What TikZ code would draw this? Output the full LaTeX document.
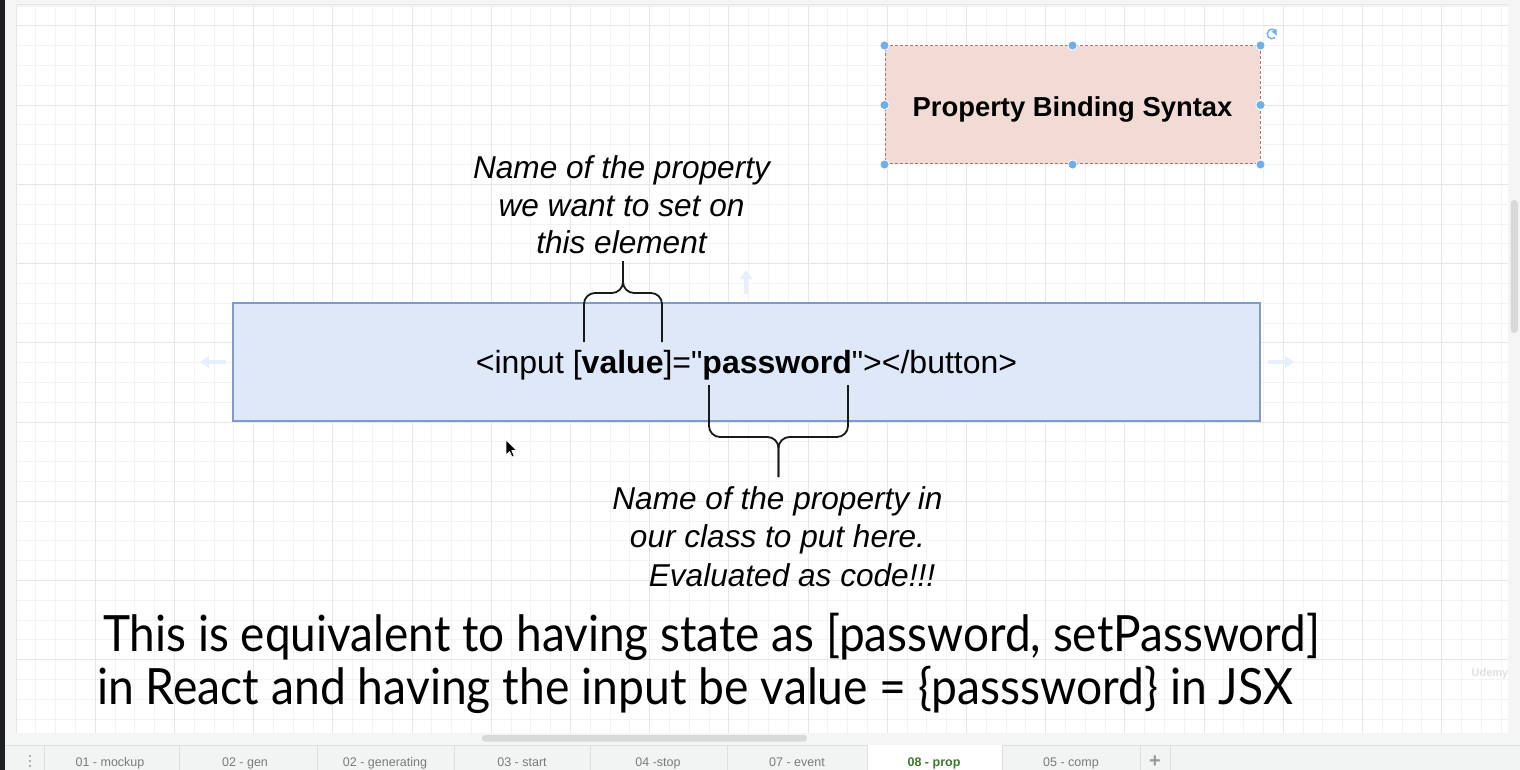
\documentclass[tikz,border=0pt]{standalone}
\usepackage{fontspec}
\setmainfont{Liberation Sans}[Ligatures=TeXOff]
\newfontfamily\subfont{Lato}
\usepackage{graphicx}
\usetikzlibrary{arrows.meta}
\definecolor{gridminor}{HTML}{F3F3F3}
\definecolor{gridmajor}{HTML}{E6E6E6}
\definecolor{pinkfill}{HTML}{F2DAD5}
\definecolor{pinkline}{HTML}{B0736E}
\definecolor{bluefill}{HTML}{DFE8F8}
\definecolor{blueline}{HTML}{7F9ACB}
\definecolor{handlecol}{HTML}{6EAEEA}
\definecolor{hovercol}{HTML}{E6EFFA}
\definecolor{tabbg}{HTML}{F2F4F4}
\definecolor{tabline}{HTML}{DDDFDF}
\definecolor{tabtext}{HTML}{7A7A7A}
\definecolor{tabgreen}{HTML}{3B7A2C}
\definecolor{darkstrip}{HTML}{1D1F22}
\definecolor{panelgray}{HTML}{F5F5F5}
\definecolor{scrollcol}{HTML}{D9D9D9}
\newcommand{\sq}{\symbol{34}}
\tikzset{
  pinkbox/.style={draw=pinkline, densely dashed, line width=1pt, fill=pinkfill,
    minimum width=375pt, minimum height=118pt, inner sep=0pt,
    text height=24pt, text depth=0pt,
    font=\fontsize{27.4}{30}\selectfont\bfseries},
  bluebox/.style={draw=blueline, line width=1.2pt, fill=bluefill,
    minimum width=1027pt, minimum height=118pt, inner sep=0pt},
  codetext/.style={inner sep=0pt, font=\fontsize{32}{36}\selectfont},
  lbl/.style={inner sep=0pt, align=center, font=\fontsize{31.6}{37.7}\selectfont\itshape},
  lblb/.style={inner sep=0pt, align=center, font=\fontsize{31.6}{38.6}\selectfont\itshape},
  bracestyle/.style={line width=1.8pt, rounded corners=11pt, black!90},
  handledot/.style={fill=handlecol, draw=white, line width=0.8pt},
  hoverarrow/.style={hovercol, line width=3.5pt, -{Triangle[length=9pt,width=12pt]}},
  tabsep/.style={tabline, line width=1pt},
  tablabel/.style={anchor=base, inner sep=0pt, text=tabtext, font=\fontsize{12.5}{14}\selectfont},
  subline/.style={anchor=base west, inner sep=0pt, font=\subfont\fontsize{50}{56}\selectfont}
}
\begin{document}
\begin{tikzpicture}[x=1pt,y=-1pt]
\useasboundingbox (0,0) rectangle (1520,770);
\fill[white] (0,0) rectangle (1520,770);
% frame around canvas
\fill[panelgray] (0,0) rectangle (1520,6);
\fill[panelgray] (5,0) rectangle (16,770);
\fill[panelgray] (1508,0) rectangle (1520,745);
\fill[panelgray] (16,733) rectangle (1520,745);
\fill[darkstrip] (0,0) rectangle (5,770);
% grid
\begin{scope}
\clip (16,6) rectangle (1508,733);
\foreach \k in {0,...,76} {\draw[gridminor, line width=1pt] ({16+19.8*\k},6) -- ({16+19.8*\k},733);}
\foreach \k in {-1,...,36} {\draw[gridminor, line width=1pt] (16,{26+19.8*\k}) -- (1508,{26+19.8*\k});}
\foreach \k in {0,...,19} {\draw[gridmajor, line width=1pt] ({16+79.2*\k},6) -- ({16+79.2*\k},733);}
\foreach \k in {0,...,9} {\draw[gridmajor, line width=1pt] (16,{26+79.2*\k}) -- (1508,{26+79.2*\k});}
\end{scope}
\draw[gridmajor, line width=1pt] (16,5) -- (1508,5);
% scrollbars
\fill[scrollcol, rounded corners=3pt] (482,735) rectangle (807,741.5);
\fill[scrollcol, rounded corners=3.5pt] (1510.5,200) rectangle (1518,333);
% title box
\node[pinkbox] (title) at (1072.5,105) {Property Binding Syntax};
\foreach \p in {north west,north,north east,east,south east,south,south west,west}
  {\filldraw[handledot] (title.\p) circle (4.6);}
\draw[handlecol, line width=1.4pt] (1272,34) ++(50:4.8) arc (50:330:4.8);
\fill[handlecol] (1276.5,29) -- (1276.8,35.5) -- (1271.5,31.5) -- cycle;
% main box
\node[bluebox] (codebox) at (746.5,362) {};
\node[codetext, anchor=base] (code) at (746.5,373) {<input [\textbf{value}]=\sq\textbf{password}\sq></button>};
% hover arrows
\coordinate (hl1) at (226,362); \coordinate (hl2) at (200,362);
\coordinate (hr1) at (1268,362); \coordinate (hr2) at (1294,362);
\coordinate (hu1) at (746,294); \coordinate (hu2) at (746,270);
\draw[hoverarrow] (hl1) -- (hl2);
\draw[hoverarrow] (hr1) -- (hr2);
\draw[hoverarrow] (hu1) -- (hu2);
% labels
\node[lbl, anchor=north] (toplab) at (621.5,155.5) {Name of the property\\we want to set on\\this element};
\node[lblb, anchor=north] (botlab) at (777.5,486) {Name of the property in\\our class to put here.\hspace*{11pt}\\\hspace*{29pt}Evaluated as code!!!};
% braces
\coordinate (tbL) at (584,342); \coordinate (tbR) at (662,342);
\coordinate (tbMid) at (623,293); \coordinate (tbTip) at (623,261);
\draw[bracestyle] (tbL) |- (tbMid) -- (tbTip);
\draw[bracestyle] (tbR) |- (tbMid) -- (tbTip);
\coordinate (bbL) at (709,385); \coordinate (bbR) at (848,385);
\coordinate (bbMid) at (778.5,437); \coordinate (bbTip) at (778.5,477);
\draw[bracestyle] (bbL) |- (bbMid) -- (bbTip);
\draw[bracestyle] (bbR) |- (bbMid) -- (bbTip);
% cursor
\filldraw[fill=black, draw=white, line width=0.7pt, line join=round]
  (506,440) -- (506,455) -- (509.5,451.5) -- (512,457) -- (514.2,456) -- (511.8,450.5) -- (516.5,450.5) -- cycle;
% subtitle
\node[subline] (sub1) at (103,651) {\resizebox{1217pt}{\height}{This is equivalent to having state as [password, setPassword]}};
\node[subline] (sub2) at (97,704.5) {\resizebox{1196pt}{\height}{in React and having the input be value = \{passsword\} in JSX}};
% watermark
\node[text=black!12, font=\fontsize{11}{12}\selectfont\bfseries, inner sep=0pt] (wm) at (1490,674) {Udemy};
% tab bar
\fill[tabbg] (5,745) rectangle (1520,770);
\fill[white] (867,745) rectangle (1002,770);
\draw[tabsep] (5,745) -- (867,745);
\draw[tabsep] (1002,745) -- (1520,745);
\foreach \xx in {44,179,317,454,590,727,867,1002,1140,1170} {\draw[tabsep] (\xx,745) -- (\xx,770);}
\foreach \yy in {756,761,766} {\fill[black!40] (30,\yy) circle (1.2);}
\node[tablabel] (t1) at (110,766.5) {01 - mockup};
\node[tablabel] (t2) at (245,766.5) {02 - gen};
\node[tablabel] (t3) at (385,766.5) {02 - generating};
\node[tablabel] (t4) at (522,766.5) {03 - start};
\node[tablabel] (t5) at (658,766.5) {04 -stop};
\node[tablabel] (t6) at (797,766.5) {07 - event};
\node[tablabel, text=tabgreen, font=\fontsize{12.5}{14}\selectfont\bfseries] (t7) at (934,766.5) {08 - prop};
\node[tablabel] (t8) at (1071,766.5) {05 - comp};
\node[tablabel, font=\fontsize{20}{20}\selectfont\bfseries, text=black!40] (tplus) at (1155,767) {+};
\end{tikzpicture}
\end{document}
